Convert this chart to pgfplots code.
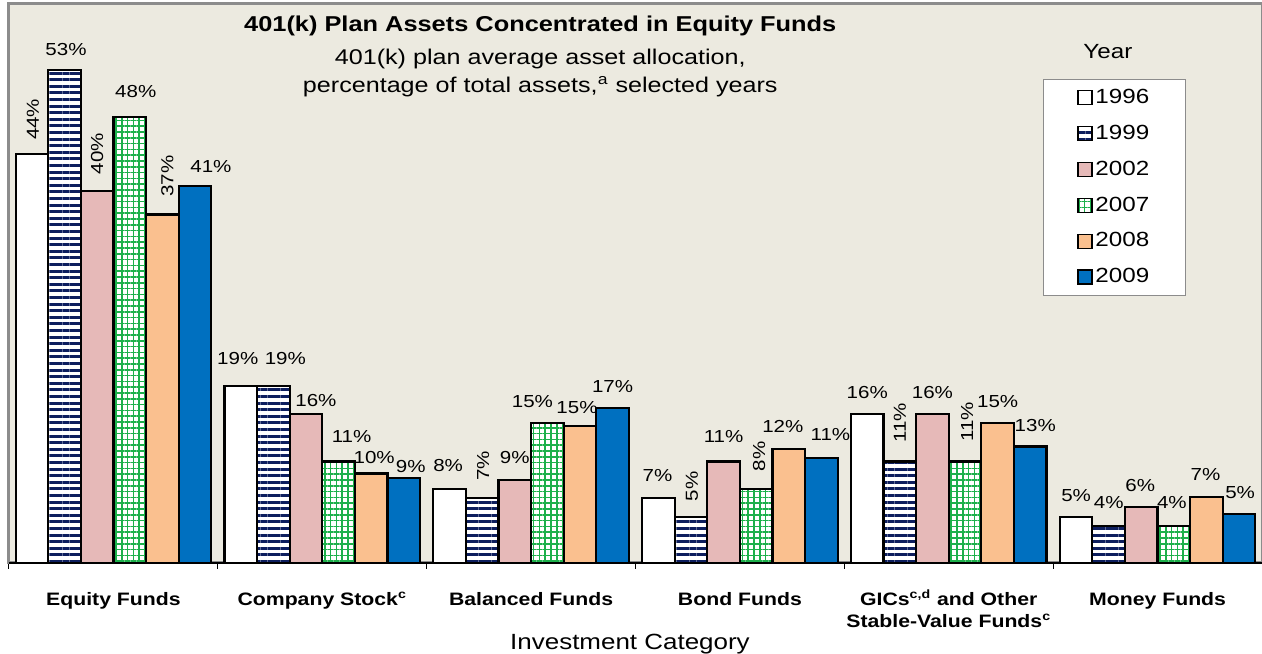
\documentclass[border=0pt]{standalone}
\usepackage{fontspec}
\setmainfont{Liberation Sans}[FakeStretch=1.18]
\usepackage{graphicx}
\usepackage{pgfplots}
\pgfplotsset{compat=1.18}
\usetikzlibrary{patterns.meta}

\definecolor{bg}{HTML}{ECEAE0}
\definecolor{frame}{HTML}{8C8C8C}
\definecolor{navy}{HTML}{0D1E5E}
\definecolor{grn}{HTML}{1DB04B}
\definecolor{pinkb}{HTML}{E6B9B8}
\definecolor{peach}{HTML}{FAC08F}
\definecolor{blueb}{HTML}{0070C0}

% value labels: {text}{x offset px}{gap above bar px}; H horizontal, V rotated
\protected\def\H#1#2#3{\hspace*{#2pt}\raisebox{0.5\dimexpr#3pt\relax}{#1\%}}
\protected\def\V#1#2#3{\hspace*{#2pt}\raisebox{0.5\dimexpr#3pt\relax}{\rotatebox{90}{#1\%}}}

\begin{document}
\begin{tikzpicture}
\begin{axis}[
  scale only axis, width=626.5pt, height=279.5pt,
  xmin=-0.5, xmax=5.5, ymin=0, ymax=60,
  axis background/.style={fill=bg},
  axis line style={frame, line width=1.5pt},
  ybar=0pt, bar width=16.3pt,
  ytick=\empty,
  xtick={0,...,5},
  xticklabels={Equity Funds, Company Stock\textsuperscript{c}, Balanced Funds, Bond Funds,
    {\begin{tabular}[t]{@{}c@{}}GICs\textsuperscript{c,d} and Other\\Stable-Value Funds\textsuperscript{c}\end{tabular}},
    Money Funds},
  xticklabel style={font=\fontsize{9}{11}\selectfont\bfseries,
    anchor=base, inner sep=0pt, yshift=-21.5pt},
  major tick length=0pt,
  minor xtick={-0.5,0.5,1.5,2.5,3.5,4.5,5.5},
  minor tick length=3pt, tick align=outside, xtick pos=left,
  minor tick style={black, line width=0.5pt},
  xlabel={Investment Category},
  xlabel style={at={(axis description cs:0.4956,0)}, anchor=base, yshift=-43.5pt,
    font=\fontsize{11}{13}\selectfont, inner sep=0pt},
  clip=false,
  every axis plot/.append style={draw=black, line width=1.1pt},
  point meta=explicit symbolic,
  nodes near coords={\pgfplotspointmeta},
  nodes near coords style={font=\fontsize{8.7}{10}\selectfont, inner sep=0pt, anchor=south},
  legend image code/.code={\draw[#1, line width=0.8pt] (0pt,-3.5pt) rectangle (7pt,3.5pt);},
  legend style={at={(rel axis cs:0.825,0.866)}, anchor=north west, draw=frame,
    line width=0.5pt, fill=white, font=\fontsize{10.25}{12}\selectfont,
    inner xsep=17pt, inner ysep=3.5pt, row sep=6.7pt, nodes={inner sep=1.3pt}},
  legend cell align=left,
]
\addplot[fill=white] coordinates {
  (0,43.9)[\V{44}{1}{13}] (1,19.0)[\H{19}{-3}{20}] (2,7.9)[\H{8}{-1.5}{17}]
  (3,7.0)[\H{7}{-1}{15}] (4,16.0)[\H{16}{0}{14}] (5,4.9)[\H{5}{0}{15}]};
\addplot[fill=white, postaction={pattern={Lines[angle=0, distance=3.3pt, line width=1.5pt]}, pattern color=navy}]
  coordinates {
  (0,52.9)[\H{53}{1.5}{14}] (1,19.0)[\H{19}{12}{20}] (2,7.0)[\V{7}{1}{16}]
  (3,4.9)[\V{5}{1}{15}] (4,10.9)[\V{11}{0}{18}] (5,4.0)[\H{4}{0}{16}]};
\addplot[fill=pinkb] coordinates {
  (0,39.9)[\V{40}{0}{16}] (1,16.0)[\H{16}{10}{6}] (2,8.9)[\H{9}{0}{15}]
  (3,10.9)[\H{11}{0}{18}] (4,16.0)[\H{16}{0}{14}] (5,6.0)[\H{6}{-1}{14}]};
\addplot[fill=white,
  postaction={pattern={Lines[angle=0, distance=2.9pt, line width=0.75pt]}, pattern color=grn},
  postaction={pattern={Lines[angle=90, distance=2.9pt, line width=0.75pt]}, pattern color=grn}]
  coordinates {
  (0,47.9)[\H{48}{6}{18}] (1,10.9)[\H{11}{13}{18}] (2,15.0)[\H{15}{-15}{15}]
  (3,7.9)[\V{8}{3}{17}] (4,10.9)[\V{11}{2}{19}] (5,4.0)[\H{4}{-2}{16}]};
\addplot[fill=peach] coordinates {
  (0,37.4)[\V{37}{5}{17}] (1,9.6)[\H{10}{3}{9}] (2,14.7)[\H{15}{-3}{11}]
  (3,12.2)[\H{12}{-6}{16}] (4,15.0)[\H{15}{0}{15}] (5,7.1)[\H{7}{-1}{15}]};
\addplot[fill=blueb] coordinates {
  (0,40.5)[\H{41}{16}{12}] (1,9.1)[\H{9}{7}{5}] (2,16.6)[\H{17}{0}{15}]
  (3,11.3)[\H{11}{9}{16}] (4,12.5)[\H{13}{5}{14}] (5,5.25)[\H{5}{1}{14}]};
\legend{1996,1999,2002,2007,2008,2009}

\draw[black, line width=1pt] (rel axis cs:0,0) -- (rel axis cs:1,0);
\node[anchor=base, font=\fontsize{10.75}{12}\selectfont\bfseries] at (rel axis cs:0.424,0.950)
  {401(k) Plan Assets Concentrated in Equity Funds};
\node[anchor=base, font=\fontsize{10.65}{12}\selectfont] at (rel axis cs:0.424,0.891)
  {401(k) plan average asset allocation,};
\node[anchor=base, font=\fontsize{10.65}{12}\selectfont] at (rel axis cs:0.424,0.841)
  {percentage of total assets,\textsuperscript{a} selected years};
\node[anchor=base, font=\fontsize{10.25}{12}\selectfont] at (rel axis cs:0.877,0.902) {Year};
\end{axis}
\pgfresetboundingbox
\path[use as bounding box] ([shift={(-4.5pt,-45.5pt)}]current axis.south west)
  rectangle ([shift={(0pt,2pt)}]current axis.north east);
\end{tikzpicture}
\end{document}
